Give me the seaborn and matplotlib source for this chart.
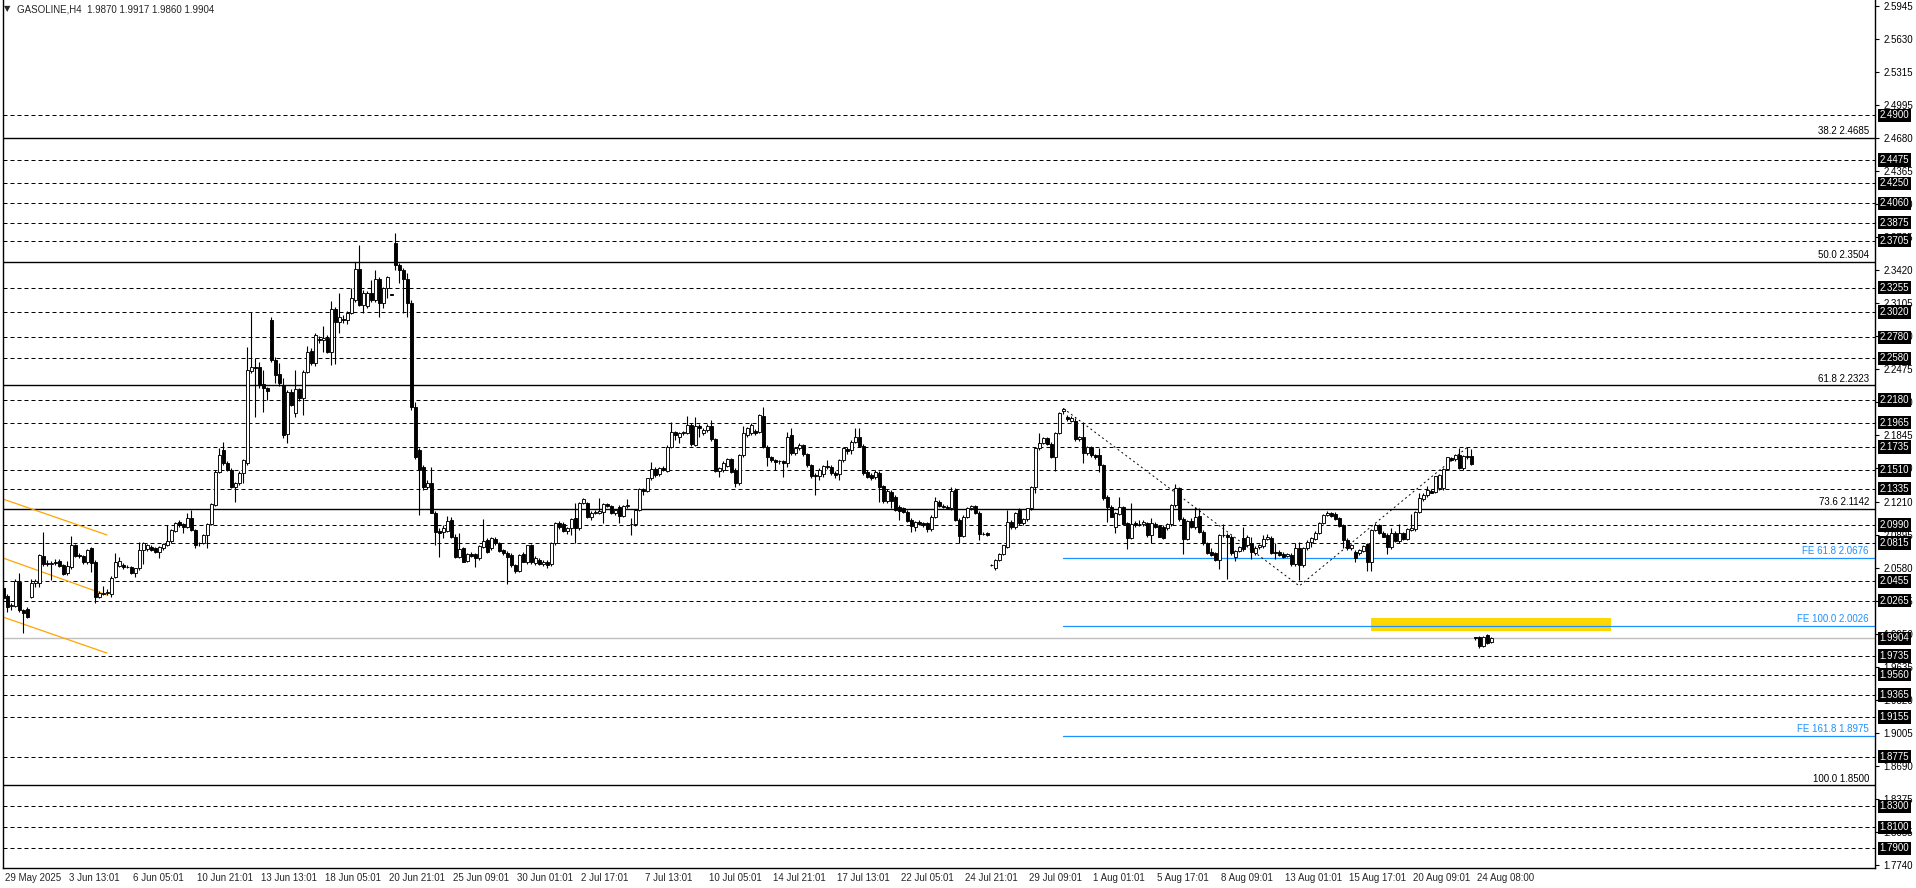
import numpy as np
import matplotlib
matplotlib.use("Agg")
import matplotlib.pyplot as plt
import matplotlib.transforms as mtransforms
from matplotlib.patches import Rectangle
import seaborn as sns

# H4 candles, 29 May - 24 Aug 2025
opens = [
    2.0383, 2.0310, 2.0215, 2.0214, 2.0447, 2.0176, 2.0182, 2.0303, 2.0437, 2.0437,
    2.0692, 2.0628, 2.0615, 2.0638, 2.0647, 2.0606, 2.0526, 2.0590, 2.0797, 2.0700,
    2.0692, 2.0638, 2.0765, 2.0638, 2.0303, 2.0330, 2.0340, 2.0329, 2.0494, 2.0600,
    2.0606, 2.0590, 2.0590, 2.0526, 2.0574, 2.0749, 2.0760, 2.0781, 2.0765, 2.0733,
    2.0765, 2.0797, 2.0838, 2.0934, 2.1013, 2.0997, 2.0972, 2.1052, 2.0940, 2.0813,
    2.0820, 2.0892, 2.0997, 2.1179, 2.1497, 2.1704, 2.1577, 2.1513, 2.1354, 2.1386,
    2.1481, 2.1577, 2.2462, 2.2500, 2.2500, 2.2331, 2.2293, 2.2946, 2.2564, 2.2430,
    2.2325, 2.1854, 2.2261, 2.2054, 2.2284, 2.2198, 2.2452, 2.2650, 2.2532, 2.2761,
    2.2755, 2.2771, 2.2643, 2.3048, 2.2930, 2.2955, 2.2946, 2.3016, 2.3137, 2.3430,
    2.3089, 2.3080, 2.3201, 2.3137, 2.3334, 2.3111, 2.3248, 2.3190, 2.3685, 2.3471,
    2.3423, 2.3334, 2.3105, 2.2118, 2.1704,
    2.1539, 2.1354, 2.1386, 2.1106, 2.0934, 2.0924, 2.0934, 2.1036, 2.0877, 2.0686,
    2.0765, 2.0647, 2.0711, 2.0711, 2.0670, 2.0781, 2.0845, 2.0765, 2.0851, 2.0819,
    2.0749, 2.0724, 2.0702, 2.0606, 2.0552, 2.0711, 2.0638, 2.0794, 2.0628, 2.0654,
    2.0616, 2.0638, 2.0616, 2.0813, 2.1010, 2.1000, 2.0934, 2.0956, 2.1052, 2.0956,
    2.1201, 2.1195, 2.1061, 2.1106, 2.1106, 2.1115, 2.1186, 2.1170, 2.1100, 2.1163,
    2.1074, 2.1170, 2.1000, 2.0998, 2.1131, 2.1329, 2.1316, 2.1434, 2.1520, 2.1475,
    2.1529, 2.1507, 2.1736, 2.1873, 2.1832, 2.1870, 2.1870, 2.1943, 2.1752, 2.1934,
    2.1864, 2.1895, 2.1934, 2.1806, 2.1504, 2.1513, 2.1552, 2.1615, 2.1513, 2.1392,
    2.1657, 2.1848, 2.1864, 2.1889, 2.1880, 2.2029, 2.1736, 2.1634, 2.1609, 2.1596,
    2.1596, 2.1577, 2.1848, 2.1679, 2.1720, 2.1749, 2.1666, 2.1561, 2.1466, 2.1456,
    2.1475, 2.1552,
    2.1539, 2.1482, 2.1475, 2.1609, 2.1710, 2.1704, 2.1784, 2.1832, 2.1743, 2.1497,
    2.1466, 2.1443, 2.1488, 2.1360, 2.1220, 2.1306, 2.1252, 2.1163, 2.1147, 2.1115,
    2.1036, 2.0966, 2.1020, 2.1010, 2.1004, 2.0947, 2.1068, 2.1211, 2.1170, 2.1163,
    2.1147, 2.1322, 2.1036, 2.0883, 2.1068, 2.1147, 2.1170, 2.1106, 2.0905, 2.0909,
    2.0610, 2.0574, 2.0654, 2.0711, 2.0781, 2.1020, 2.0966, 2.1131, 2.1010, 2.1042,
    2.1147, 2.1348, 2.1720, 2.1774, 2.1816, 2.1762, 2.1641, 2.1870, 2.2080, 2.2023,
    2.1985, 2.1985, 2.1806, 2.1825, 2.1679, 2.1736, 2.1657, 2.1657, 2.1561, 2.1252,
    2.1163, 2.0972, 2.1093, 2.1157, 2.1004, 2.0861, 2.1010, 2.1000, 2.0998, 2.1004,
    2.0893, 2.0998, 2.0979, 2.0972, 2.0956, 2.0998, 2.1179, 2.1338, 2.1042, 2.0851,
    2.1029, 2.0972, 2.1074, 2.0924, 2.0819, 2.0733, 2.0717, 2.0654, 2.0893, 2.0893,
    2.0877, 2.0686, 2.0743,
    2.0861, 2.0797, 2.0813, 2.0717, 2.0775, 2.0788, 2.0851, 2.0861, 2.0733, 2.0733,
    2.0711, 2.0692, 2.0702, 2.0616, 2.0765, 2.0606, 2.0765, 2.0829, 2.0851, 2.0915,
    2.1010, 2.1084, 2.1100, 2.1093, 2.1052, 2.0988, 2.0845, 2.0765, 2.0733, 2.0717,
    2.0743, 2.0807, 2.0638, 2.0940, 2.0988, 2.0915, 2.0893, 2.0781, 2.0915, 2.0839,
    2.0909, 2.0851, 2.0940, 2.0947, 2.1116, 2.1233, 2.1275, 2.1316, 2.1306, 2.1338,
    2.1338, 2.1520, 2.1625, 2.1615, 2.1657, 2.1529, 2.1647, 2.1647, 1.9915, 1.9915,
    1.9832, 1.9934, 1.9870,
]
highs = [
    2.0410, 2.0330, 2.0240, 2.0469, 2.0526, 2.0190, 2.0202, 2.0469, 2.0470, 2.0710,
    2.0924, 2.0650, 2.0640, 2.0660, 2.0660, 2.0620, 2.0640, 2.0883, 2.0810, 2.0720,
    2.0700, 2.0760, 2.0780, 2.0650, 2.0360, 2.0410, 2.0380, 2.0500, 2.0724, 2.0680,
    2.0625, 2.0610, 2.0600, 2.0580, 2.0829, 2.0830, 2.0810, 2.0800, 2.0780, 2.0790,
    2.0820, 2.0988, 2.0950, 2.1020, 2.1040, 2.1010, 2.1099, 2.1131, 2.0950, 2.0830,
    2.0900, 2.1010, 2.1200, 2.1510, 2.1720, 2.1784, 2.1600, 2.1530, 2.1400, 2.1500,
    2.1620, 2.2691, 2.3026, 2.2580, 2.2540, 2.2468, 2.2310, 2.2978, 2.2590, 2.2532,
    2.2389, 2.2280, 2.2290, 2.2468, 2.2300, 2.2470, 2.2698, 2.2680, 2.2820, 2.2790,
    2.2889, 2.2800, 2.3131, 2.3070, 2.3201, 2.2990, 2.3030, 2.3248, 2.3503, 2.3662,
    2.3230, 2.3220, 2.3330, 2.3423, 2.3360, 2.3260, 2.3370, 2.3195, 2.3774, 2.3490,
    2.3440, 2.3390, 2.3140, 2.2165, 2.1720,
    2.1560, 2.1420, 2.1539, 2.1120, 2.0960, 2.0988, 2.1074, 2.1068, 2.0900, 2.0909,
    2.0780, 2.0720, 2.0730, 2.0720, 2.0800, 2.1042, 2.0860, 2.0870, 2.0870, 2.0830,
    2.0760, 2.0740, 2.0720, 2.0620, 2.0710, 2.0730, 2.0800, 2.0810, 2.0690, 2.0670,
    2.0650, 2.0650, 2.0830, 2.1020, 2.1030, 2.1020, 2.0970, 2.1050, 2.1195, 2.1210,
    2.1250, 2.1210, 2.1120, 2.1130, 2.1243, 2.1200, 2.1200, 2.1180, 2.1140, 2.1180,
    2.1180, 2.1233, 2.1052, 2.1140, 2.1340, 2.1340, 2.1440, 2.1593, 2.1540, 2.1540,
    2.1550, 2.1750, 2.1975, 2.1890, 2.1880, 2.1890, 2.2029, 2.1960, 2.2023, 2.1950,
    2.1910, 2.1950, 2.1991, 2.1820, 2.1540, 2.1600, 2.1630, 2.1630, 2.1530, 2.1670,
    2.1934, 2.1920, 2.1960, 2.1900, 2.2045, 2.2112, 2.1750, 2.1650, 2.1620, 2.1610,
    2.1610, 2.1880, 2.1911, 2.1730, 2.1770, 2.1760, 2.1680, 2.1570, 2.1480, 2.1530,
    2.1560, 2.1609,
    2.1560, 2.1500, 2.1620, 2.1730, 2.1730, 2.1800, 2.1911, 2.1911, 2.1760, 2.1510,
    2.1480, 2.1510, 2.1500, 2.1370, 2.1330, 2.1320, 2.1270, 2.1180, 2.1160, 2.1130,
    2.1050, 2.1030, 2.1040, 2.1020, 2.1020, 2.1080, 2.1252, 2.1230, 2.1190, 2.1180,
    2.1354, 2.1340, 2.1050, 2.1080, 2.1160, 2.1180, 2.1180, 2.1120, 2.0920, 2.0920,
    2.0620, 2.0660, 2.0720, 2.0800, 2.1131, 2.1040, 2.1110, 2.1150, 2.1050, 2.1150,
    2.1360, 2.1730, 2.1870, 2.1830, 2.1830, 2.1780, 2.1880, 2.2070, 2.2102, 2.2040,
    2.2030, 2.2010, 2.1840, 2.1975, 2.1740, 2.1743, 2.1670, 2.1720, 2.1570, 2.1270,
    2.1180, 2.1110, 2.1252, 2.1170, 2.1020, 2.1195, 2.1030, 2.1040, 2.1036, 2.1020,
    2.1052, 2.1020, 2.0990, 2.0990, 2.1010, 2.1190, 2.1380, 2.1350, 2.1060, 2.1040,
    2.1050, 2.1163, 2.1147, 2.0940, 2.0830, 2.0765, 2.0730, 2.0900, 2.0998, 2.0910,
    2.0890, 2.0750, 2.0790,
    2.0972, 2.0890, 2.0877, 2.0790, 2.0810, 2.0893, 2.0900, 2.0880, 2.0819, 2.0750,
    2.0730, 2.0720, 2.0720, 2.0813, 2.0829, 2.0780, 2.0840, 2.0870, 2.0930, 2.1020,
    2.1090, 2.1122, 2.1115, 2.1110, 2.1065, 2.1000, 2.0860, 2.0810, 2.0745, 2.0760,
    2.0800, 2.0820, 2.0950, 2.1004, 2.1000, 2.0930, 2.0910, 2.0956, 2.0930, 2.0997,
    2.0925, 2.0955, 2.1093, 2.1125, 2.1291, 2.1290, 2.1360, 2.1330, 2.1460, 2.1475,
    2.1530, 2.1640, 2.1640, 2.1670, 2.1720, 2.1660, 2.1730, 2.1712, 1.9920, 1.9925,
    1.9930, 1.9945, 1.9917,
]
lows = [
    2.0260, 2.0160, 2.0176, 2.0200, 2.0160, 1.9953, 2.0100, 2.0290, 2.0399, 2.0399,
    2.0600, 2.0600, 2.0463, 2.0610, 2.0590, 2.0510, 2.0510, 2.0570, 2.0680, 2.0670,
    2.0620, 2.0620, 2.0542, 2.0240, 2.0290, 2.0320, 2.0320, 2.0300, 2.0480, 2.0590,
    2.0570, 2.0575, 2.0520, 2.0494, 2.0560, 2.0620, 2.0740, 2.0740, 2.0720, 2.0670,
    2.0750, 2.0790, 2.0820, 2.0920, 2.0970, 2.0910, 2.0960, 2.0930, 2.0765, 2.0790,
    2.0810, 2.0765, 2.0990, 2.1170, 2.1480, 2.1560, 2.1500, 2.1340, 2.1211, 2.1370,
    2.1386, 2.1560, 2.2440, 2.2023, 2.2300, 2.2070, 2.2180, 2.2540, 2.2341, 2.2320,
    2.1816, 2.1774, 2.2120, 2.2023, 2.2170, 2.2039, 2.2440, 2.2520, 2.2510, 2.2730,
    2.2643, 2.2630, 2.2520, 2.2522, 2.2819, 2.2920, 2.2910, 2.3000, 2.3120, 2.3080,
    2.3010, 2.3060, 2.3120, 2.3120, 2.2978, 2.3058, 2.3153, 2.3180, 2.3423, 2.3296,
    2.3010, 2.2978, 2.2090, 2.1620, 2.1084,
    2.1320, 2.1330, 2.1100, 2.0797, 2.0679, 2.0861, 2.0920, 2.0860, 2.0670, 2.0670,
    2.0630, 2.0630, 2.0680, 2.0590, 2.0650, 2.0770, 2.0720, 2.0750, 2.0800, 2.0730,
    2.0700, 2.0425, 2.0590, 2.0530, 2.0540, 2.0630, 2.0620, 2.0620, 2.0610, 2.0610,
    2.0600, 2.0580, 2.0600, 2.0800, 2.0950, 2.0920, 2.0900, 2.0893, 2.0813, 2.0940,
    2.1190, 2.1050, 2.1040, 2.1090, 2.1090, 2.1010, 2.1160, 2.1090, 2.1080, 2.1010,
    2.1060, 2.1150, 2.0893, 2.0980, 2.1120, 2.1275, 2.1300, 2.1420, 2.1450, 2.1460,
    2.1500, 2.1490, 2.1720, 2.1800, 2.1770, 2.1850, 2.1860, 2.1740, 2.1740, 2.1832,
    2.1850, 2.1880, 2.1790, 2.1490, 2.1450, 2.1490, 2.1540, 2.1480, 2.1354, 2.1370,
    2.1640, 2.1830, 2.1850, 2.1850, 2.1870, 2.1720, 2.1552, 2.1590, 2.1513, 2.1570,
    2.1450, 2.1540, 2.1660, 2.1660, 2.1700, 2.1650, 2.1545, 2.1440, 2.1275, 2.1420,
    2.1450, 2.1520,
    2.1470, 2.1434, 2.1418, 2.1590, 2.1666, 2.1670, 2.1770, 2.1730, 2.1470, 2.1440,
    2.1420, 2.1430, 2.1211, 2.1201, 2.1200, 2.1147, 2.1120, 2.1036, 2.1100, 2.1020,
    2.0924, 2.0934, 2.0990, 2.0970, 2.0924, 2.0930, 2.1050, 2.1160, 2.1150, 2.1140,
    2.1130, 2.1030, 2.0813, 2.0870, 2.1050, 2.1130, 2.1090, 2.0845, 2.0890, 2.0880,
    2.0600, 2.0560, 2.0640, 2.0700, 2.0770, 2.0950, 2.0950, 2.0990, 2.0990, 2.1030,
    2.1130, 2.1290, 2.1700, 2.1760, 2.1750, 2.1630, 2.1507, 2.1860, 2.2050, 2.1985,
    2.1970, 2.1790, 2.1790, 2.1577, 2.1660, 2.1640, 2.1620, 2.1497, 2.1230, 2.1020,
    2.1060, 2.0915, 2.1080, 2.0990, 2.0756, 2.0850, 2.0970, 2.0980, 2.0980, 2.0877,
    2.0813, 2.0960, 2.0870, 2.0851, 2.0940, 2.0980, 2.1160, 2.1030, 2.0711, 2.0845,
    2.0960, 2.0950, 2.0910, 2.0800, 2.0710, 2.0690, 2.0640, 2.0565, 2.0870, 2.0469,
    2.0700, 2.0640, 2.0730,
    2.0740, 2.0780, 2.0660, 2.0700, 2.0760, 2.0770, 2.0840, 2.0710, 2.0660, 2.0690,
    2.0670, 2.0680, 2.0600, 2.0600, 2.0463, 2.0590, 2.0750, 2.0781, 2.0840, 2.0900,
    2.1000, 2.1070, 2.1065, 2.1035, 2.0970, 2.0765, 2.0750, 2.0750, 2.0638, 2.0700,
    2.0730, 2.0552, 2.0552, 2.0930, 2.0900, 2.0870, 2.0711, 2.0760, 2.0830, 2.0820,
    2.0845, 2.0840, 2.0930, 2.0935, 2.1100, 2.1220, 2.1260, 2.1290, 2.1290, 2.1320,
    2.1320, 2.1510, 2.1600, 2.1600, 2.1520, 2.1510, 2.1620, 2.1560, 1.9890, 1.9810,
    1.9820, 1.9850, 1.9860,
]
closes = [
    2.0287, 2.0208, 2.0224, 2.0456, 2.0176, 2.0150, 2.0106, 2.0431, 2.0456, 2.0701,
    2.0615, 2.0612, 2.0628, 2.0622, 2.0596, 2.0520, 2.0596, 2.0797, 2.0692, 2.0690,
    2.0638, 2.0749, 2.0628, 2.0303, 2.0335, 2.0340, 2.0351, 2.0479, 2.0638, 2.0647,
    2.0584, 2.0584, 2.0533, 2.0574, 2.0749, 2.0813, 2.0797, 2.0749, 2.0733, 2.0781,
    2.0806, 2.0838, 2.0940, 2.1004, 2.0988, 2.0972, 2.1052, 2.0940, 2.0797, 2.0820,
    2.0892, 2.0997, 2.1188, 2.1497, 2.1656, 2.1577, 2.1513, 2.1354, 2.1386, 2.1481,
    2.1609, 2.2468, 2.2500, 2.2490, 2.2325, 2.2293, 2.2271, 2.2564, 2.2421, 2.2341,
    2.1848, 2.2261, 2.2134, 2.2284, 2.2198, 2.2452, 2.2643, 2.2532, 2.2803, 2.2750,
    2.2771, 2.2643, 2.3048, 2.2930, 2.2978, 2.2946, 2.3016, 2.3153, 2.3430, 2.3089,
    2.3207, 2.3201, 2.3137, 2.3334, 2.3111, 2.3248, 2.3353, 2.3185, 2.3471, 2.3423,
    2.3334, 2.3105, 2.2118, 2.1641, 2.1513,
    2.1348, 2.1392, 2.1106, 2.0924, 2.0909, 2.0956, 2.1029, 2.0870, 2.0679, 2.0756,
    2.0638, 2.0711, 2.0692, 2.0670, 2.0791, 2.0838, 2.0733, 2.0861, 2.0813, 2.0743,
    2.0717, 2.0686, 2.0606, 2.0552, 2.0702, 2.0638, 2.0794, 2.0638, 2.0670, 2.0616,
    2.0638, 2.0606, 2.0813, 2.1010, 2.0966, 2.0934, 2.0956, 2.1042, 2.0956, 2.1201,
    2.1233, 2.1061, 2.1106, 2.1115, 2.1122, 2.1186, 2.1170, 2.1100, 2.1131, 2.1074,
    2.1170, 2.1179, 2.0998, 2.1131, 2.1329, 2.1316, 2.1434, 2.1520, 2.1466, 2.1529,
    2.1513, 2.1736, 2.1873, 2.1848, 2.1870, 2.1880, 2.1943, 2.1759, 2.1934, 2.1911,
    2.1895, 2.1934, 2.1806, 2.1504, 2.1529, 2.1583, 2.1615, 2.1497, 2.1392, 2.1657,
    2.1864, 2.1911, 2.1943, 2.1864, 2.2039, 2.1736, 2.1634, 2.1609, 2.1593, 2.1600,
    2.1577, 2.1832, 2.1679, 2.1720, 2.1752, 2.1666, 2.1561, 2.1456, 2.1456, 2.1513,
    2.1552, 2.1545,
    2.1482, 2.1466, 2.1609, 2.1720, 2.1698, 2.1784, 2.1832, 2.1743, 2.1488, 2.1450,
    2.1434, 2.1497, 2.1354, 2.1220, 2.1316, 2.1220, 2.1131, 2.1125, 2.1115, 2.1029,
    2.0979, 2.1020, 2.0998, 2.0988, 2.0947, 2.1068, 2.1220, 2.1170, 2.1160, 2.1150,
    2.1316, 2.1036, 2.0883, 2.1068, 2.1147, 2.1170, 2.1106, 2.0902, 2.0902, 2.0893,
    2.0606, 2.0654, 2.0711, 2.0797, 2.1020, 2.0966, 2.1100, 2.1010, 2.1042, 2.1147,
    2.1348, 2.1720, 2.1774, 2.1816, 2.1762, 2.1641, 2.1870, 2.2061, 2.2093, 2.1997,
    2.2010, 2.1806, 2.1832, 2.1679, 2.1736, 2.1657, 2.1634, 2.1561, 2.1243, 2.1163,
    2.1068, 2.1100, 2.1157, 2.0998, 2.0861, 2.0998, 2.0988, 2.0998, 2.1020, 2.0893,
    2.1004, 2.0972, 2.0877, 2.0861, 2.0998, 2.1179, 2.1338, 2.1042, 2.0851, 2.1029,
    2.0972, 2.1068, 2.0924, 2.0813, 2.0717, 2.0702, 2.0654, 2.0893, 2.0890, 2.0877,
    2.0717, 2.0743, 2.0781,
    2.0756, 2.0877, 2.0733, 2.0765, 2.0797, 2.0851, 2.0877, 2.0724, 2.0720, 2.0702,
    2.0686, 2.0711, 2.0616, 2.0765, 2.0606, 2.0765, 2.0829, 2.0861, 2.0915, 2.1010,
    2.1084, 2.1100, 2.1074, 2.1042, 2.0979, 2.0845, 2.0765, 2.0797, 2.0670, 2.0749,
    2.0788, 2.0638, 2.0940, 2.0988, 2.0909, 2.0877, 2.0781, 2.0915, 2.0839, 2.0915,
    2.0851, 2.0947, 2.0956, 2.1116, 2.1243, 2.1275, 2.1322, 2.1297, 2.1456, 2.1466,
    2.1520, 2.1634, 2.1612, 2.1657, 2.1529, 2.1647, 2.1634, 2.1571, 1.9912, 1.9832,
    1.9915, 1.9858, 1.9904,
]

date_labels = ["29 May 2025", "3 Jun 13:01", "6 Jun 05:01", "10 Jun 21:01", "13 Jun 13:01",
               "18 Jun 05:01", "20 Jun 21:01", "25 Jun 09:01", "30 Jun 01:01", "2 Jul 17:01",
               "7 Jul 13:01", "10 Jul 05:01", "14 Jul 21:01", "17 Jul 13:01", "22 Jul 05:01",
               "24 Jul 21:01", "29 Jul 09:01", "1 Aug 01:01", "5 Aug 17:01", "8 Aug 09:01",
               "13 Aug 01:01", "15 Aug 17:01", "20 Aug 09:01", "24 Aug 08:00"]
label_every = 16

# price scale ticks on the right
scale_ticks = [2.5945, 2.5630, 2.5315, 2.4995, 2.4680, 2.4365, 2.4050, 2.3735, 2.3420,
               2.3105, 2.2790, 2.2475, 2.2160, 2.1845, 2.1530, 2.1210, 2.0895, 2.0580,
               2.0265, 1.9950, 1.9635, 1.9320, 1.9005, 1.8690, 1.8375, 1.8055, 1.7740]

# horizontal support / resistance levels (dashed, black tag)
levels = [2.4900, 2.4475, 2.4250, 2.4060, 2.3875, 2.3705, 2.3255, 2.3020, 2.2780,
          2.2580, 2.2180, 2.1965, 2.1735, 2.1510, 2.1335, 2.0990, 2.0815, 2.0455,
          2.0265, 1.9735, 1.9560, 1.9365, 1.9155, 1.8775, 1.8300, 1.8100, 1.7900]

fib_pct = ["38.2", "50.0", "61.8", "73.6", "100.0"]
fib_prices = [2.4685, 2.3504, 2.2323, 2.1142, 1.8500]

fe_pct = ["61.8", "100.0", "161.8"]
fe_prices = [2.0676, 2.0026, 1.8975]
fe_start = 265

zigzag_x = [265, 324, 366]
zigzag_y = [2.2102, 2.0406, 2.1730]

channel_x = [-0.1, 25.9]
channel_y = [[2.1236, 2.0893], [2.0673, 2.0319], [2.0109, 1.9765]]

zone_x = [342, 402]
zone_y = [1.9976, 2.0100]

last_price = 1.9904
title = "GASOLINE,H4  1.9870 1.9917 1.9860 1.9904"

sns.set_style("white")
plt.rcParams['font.family'] = ['Liberation Sans', 'DejaVu Sans']

W, H = 1916, 888
fig = plt.figure(figsize=(W / 100, H / 100), dpi=100)
ax_l, ax_r, ax_t, ax_b = 2.5, 1875, 0, 868
ax = fig.add_axes([ax_l / W, (H - ax_b) / H, (ax_r - ax_l) / W, (ax_b - ax_t) / H])
ax.set_facecolor("white")

px_per_bar = 4.0
ax.set_xlim(-0.2, -0.2 + (ax_r - ax_l) / px_per_bar)
ax.set_ylim(1.7712, 2.6002)

# levels
for p in levels:
    ax.axhline(p, color="black", lw=0.72, dashes=(4, 3), zorder=1)
for p in fib_prices:
    ax.axhline(p, color="black", lw=1.0, zorder=1)

ax.add_patch(Rectangle((zone_x[0], zone_y[0]), zone_x[1] - zone_x[0], zone_y[1] - zone_y[0],
                       facecolor="#FFD700", edgecolor="none", zorder=1))
for p in fe_prices:
    ax.plot([fe_start, 10000], [p, p], color="#1E90FF", lw=0.9, zorder=2)
ax.axhline(last_price, color="#C0C0C0", lw=1.0, zorder=1)

for cy in channel_y:
    ax.plot(channel_x, cy, color="#FFA500", lw=0.9, zorder=2)

sns.lineplot(x=zigzag_x, y=zigzag_y, ax=ax, color="black", lw=0.7,
             linestyle=(0, (2, 3)), zorder=2)

# candles
o = np.array(opens); h = np.array(highs); l = np.array(lows); c = np.array(closes)
x = np.arange(len(c))
ax.vlines(x, l, h, color="black", lw=0.8, zorder=3)
up = c >= o
ax.bar(x, np.abs(c - o), bottom=np.minimum(o, c), width=0.62,
       color=np.where(up, "white", "black"), edgecolor="black", linewidth=0.65, zorder=4)

# text labels for fib / fe lines
off = mtransforms.offset_copy(ax.transData, fig=fig, x=0, y=1.5, units="dots")
xr = ax.get_xlim()[1] - 1.5
for pct, p in zip(fib_pct, fib_prices):
    ax.text(xr, p, f"{pct} {p:.4f}", ha="right", va="bottom", fontsize=7,
            color="black", transform=off, zorder=5)
for pct, p in zip(fe_pct, fe_prices):
    ax.text(xr, p, f"FE {pct} {p:.4f}", ha="right", va="bottom", fontsize=7,
            color="#1E90FF", transform=off, zorder=5)

# spines
for s in ["left", "bottom", "right"]:
    ax.spines[s].set_color("black")
    ax.spines[s].set_linewidth(1.0)
ax.spines["top"].set_visible(False)

# right price scale
ax.yaxis.tick_right()
ax.set_yticks(scale_ticks)
ax.set_yticklabels([f"{t:.4f}" for t in scale_ticks])
ax.tick_params(axis="y", direction="out", length=3, width=0.8, pad=3,
               labelsize=7, colors="black")
trans_tag = mtransforms.blended_transform_factory(ax.transAxes, ax.transData)
tag_x = 1 + 4.5 / (ax_r - ax_l)
for p in levels + [last_price]:
    ax.text(tag_x, p, f"{p:.4f}", transform=trans_tag, ha="left", va="center",
            fontsize=7, color="white", zorder=10, clip_on=False,
            bbox=dict(boxstyle="square,pad=0.18", fc="black", ec="none"))

# time axis
ticks = [i * label_every for i in range(len(date_labels))]
ax.set_xticks(ticks)
ax.set_xticklabels(date_labels, ha="left")
ax.tick_params(axis="x", direction="out", length=3, width=0.8, pad=0.5, labelsize=7)
shift = mtransforms.ScaledTranslation(2 / 100, 0, fig.dpi_scale_trans)
for lab in ax.get_xticklabels():
    lab.set_transform(lab.get_transform() + shift)

# header
fig.text(4 / W, 1 - 9 / H, "\u25bc", fontsize=6, va="center", ha="left",
         family="DejaVu Sans")
fig.text(17 / W, 1 - 9 / H, title, fontsize=7, va="center", ha="left")

fig.savefig("out.png", dpi=100)
